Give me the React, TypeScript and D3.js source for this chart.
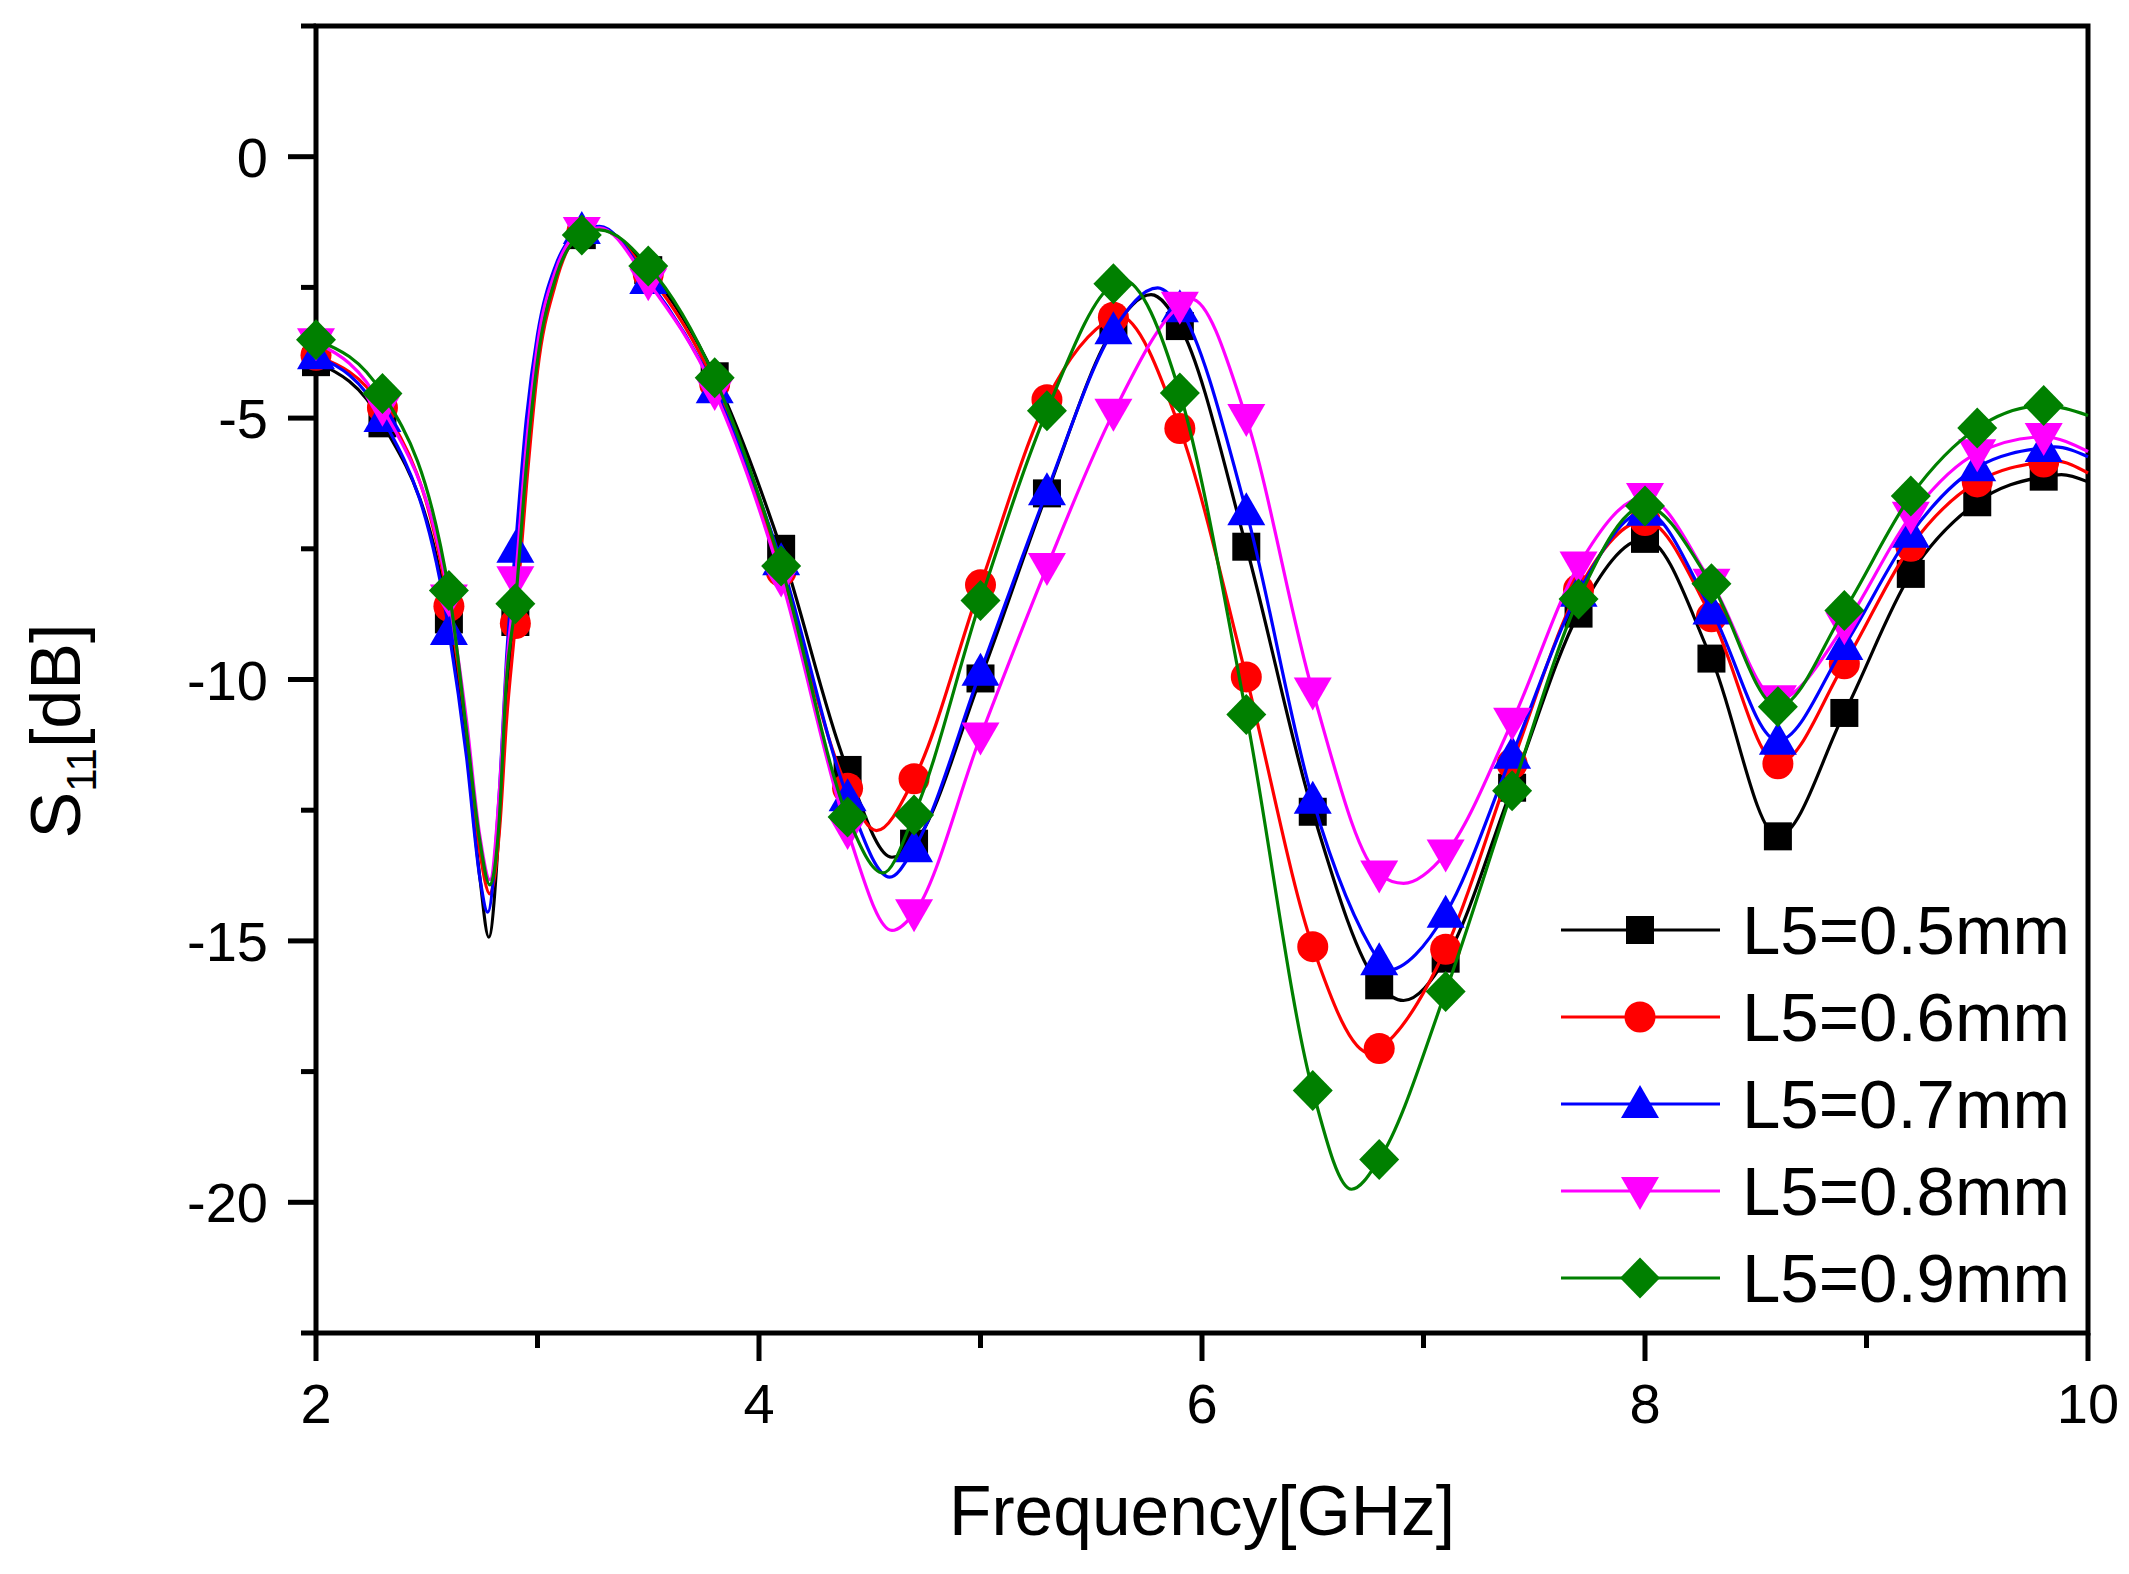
import * as d3 from "d3";
import React from "react";

// Frequency of every plotted marker (GHz)
const FREQ_MARKERS = [
  2.0, 2.3, 2.6, 2.9, 3.2, 3.5, 3.8, 4.1, 4.4, 4.7, 5.0, 5.3, 5.6, 5.9, 6.2,
  6.5, 6.8, 7.1, 7.4, 7.7, 8.0, 8.3, 8.6, 8.9, 9.2, 9.5, 9.8,
];

// S11 values (dB) at the markers
const S11_L05 = [
  -3.93, -5.1, -8.85, -8.9, -1.5, -2.17, -4.2, -7.5, -11.73, -13.14, -9.98,
  -6.44, -3.3, -3.24, -7.46, -12.53, -15.85, -15.34, -12.07, -8.74, -7.31,
  -9.6, -13.0, -10.64, -7.98, -6.61, -6.12,
];
const S11_L06 = [
  -3.8, -4.8, -8.6, -8.93, -1.45, -2.25, -4.35, -7.93, -12.08, -11.9, -8.19,
  -4.65, -3.07, -5.2, -9.95, -15.11, -17.06, -15.16, -11.61, -8.28, -6.96,
  -8.8, -11.61, -9.7, -7.45, -6.22, -5.84,
];
const S11_L07 = [
  -3.8, -5.0, -9.07, -7.5, -1.4, -2.36, -4.45, -7.74, -12.25, -13.23, -9.85,
  -6.4, -3.32, -2.9, -6.78, -12.3, -15.39, -14.48, -11.44, -8.34, -6.79,
  -8.68, -11.17, -9.36, -7.21, -5.94, -5.57,
];
const S11_L08 = [
  -3.55, -4.8, -8.45, -8.1, -1.42, -2.4, -4.5, -8.07, -12.9, -14.47, -11.09,
  -7.85, -4.9, -2.85, -5.0, -10.23, -13.73, -13.33, -10.81, -7.82, -6.51,
  -8.15, -10.38, -8.98, -6.87, -5.67, -5.36,
];
const S11_L09 = [
  -3.5, -4.53, -8.3, -8.55, -1.5, -2.09, -4.23, -7.83, -12.63, -12.59, -8.49,
  -4.86, -2.43, -4.52, -10.67, -17.86, -19.18, -15.97, -12.13, -8.46, -6.68,
  -8.17, -10.52, -8.68, -6.49, -5.19, -4.76,
];

// Extra curve samples between markers (freq, dB)
const CURVE_L05: [number, number][] = [
  [2.68, -11.3], [2.74, -13.8], [2.78, -14.93], [2.83, -12.6], [2.86, -10.2],
  [2.95, -5.8], [3.0, -3.8], [3.08, -2.3], [3.28, -1.38], [4.6, -13.4],
  [5.77, -2.64], [6.91, -16.14], [9.88, -6.08], [10.0, -6.22],
];
const CURVE_L06: [number, number][] = [
  [2.68, -11.0], [2.74, -13.3], [2.785, -14.1], [2.83, -12.8], [2.86, -10.8],
  [2.95, -6.3], [3.0, -4.1], [3.08, -2.45], [3.28, -1.38], [4.53, -12.89],
  [5.62, -3.03], [6.76, -17.15], [9.85, -5.82], [10.0, -6.05],
];
const CURVE_L07: [number, number][] = [
  [2.68, -11.5], [2.74, -13.8], [2.775, -14.45], [2.83, -12.0], [2.86, -9.6],
  [2.95, -5.0], [3.0, -3.4], [3.08, -2.1], [3.28, -1.33], [4.59, -13.78],
  [5.8, -2.51], [6.83, -15.57], [9.85, -5.55], [10.0, -5.74],
];
const CURVE_L08: [number, number][] = [
  [2.68, -10.8], [2.74, -13.0], [2.785, -13.83], [2.83, -12.0], [2.86, -9.8],
  [2.95, -5.5], [3.0, -3.6], [3.08, -2.2], [3.28, -1.36], [4.6, -14.8],
  [5.95, -2.72], [6.91, -13.9], [10.0, -5.64],
];
const CURVE_L09: [number, number][] = [
  [2.68, -11.0], [2.74, -13.1], [2.785, -13.93], [2.825, -12.83], [2.86, -10.0],
  [2.95, -5.9], [3.0, -3.9], [3.08, -2.35], [3.28, -1.4], [4.56, -13.7],
  [5.64, -2.35], [6.675, -19.75], [10.0, -4.95],
];

const SERIES_NAMES = ["L5=0.5mm", "L5=0.6mm", "L5=0.7mm", "L5=0.8mm", "L5=0.9mm"];
const SERIES_COLORS = ["#000000", "#ff0000", "#0000ff", "#ff00ff", "#008000"];
const SERIES_SHAPES = ["square", "circle", "triangle", "down", "diamond"];

const X_TICKS = [2, 4, 6, 8, 10];
const X_MINOR = [3, 5, 7, 9];
const Y_TICKS = [0, -5, -10, -15, -20];
const Y_MINOR = [2.5, -2.5, -7.5, -12.5, -17.5, -22.5];

const FONT = "'Liberation Sans', Arial, sans-serif";

const W = 2129;
const H = 1574;
const plot = { left: 316, right: 2088, top: 26, bottom: 1333 };

const x = d3.scaleLinear().domain([2, 10]).range([plot.left, plot.right]);
const y = d3.scaleLinear().domain([-22.5, 2.5]).range([plot.bottom, plot.top]);

const series = [
  { marks: S11_L05, extra: CURVE_L05 },
  { marks: S11_L06, extra: CURVE_L06 },
  { marks: S11_L07, extra: CURVE_L07 },
  { marks: S11_L08, extra: CURVE_L08 },
  { marks: S11_L09, extra: CURVE_L09 },
].map((s, i) => ({
  name: SERIES_NAMES[i],
  color: SERIES_COLORS[i],
  shape: SERIES_SHAPES[i],
  marks: FREQ_MARKERS.map((f, j) => [f, s.marks[j]] as [number, number]),
  curve: [...FREQ_MARKERS.map((f, j) => [f, s.marks[j]] as [number, number]), ...s.extra].sort(
    (a, b) => a[0] - b[0]
  ),
}));

const line = d3
  .line<[number, number]>()
  .x((d) => x(d[0]))
  .y((d) => y(d[1]))
  .curve(d3.curveMonotoneX);

// marker outline centred on (0,0)
function markerPath(shape: string): string {
  switch (shape) {
    case "square":
      return "M-14,-14H14V14H-14Z";
    case "circle":
      return "M-15.5,0A15.5,15.5 0 1,0 15.5,0A15.5,15.5 0 1,0 -15.5,0Z";
    case "triangle":
      return "M0,-19L19,14H-19Z";
    case "down":
      return "M0,19L19,-14H-19Z";
    default:
      return "M0,-20.5L20,0L0,20.5L-20,0Z";
  }
}

const Marker: React.FC<{ shape: string; color: string; cx: number; cy: number }> = ({
  shape,
  color,
  cx,
  cy,
}) => <path d={markerPath(shape)} fill={color} transform={`translate(${cx},${cy})`} />;

const legendRows = [930, 1017, 1104, 1191, 1278];

export default function App() {
  return (
    <svg
      width={W}
      height={H}
      viewBox={`0 0 ${W} ${H}`}
      style={{ position: "absolute", left: 0, top: 0, background: "#fff" }}
      fontFamily={FONT}
    >
      <rect width={W} height={H} fill="#fff" />

      {/* frame */}
      <rect
        x={plot.left}
        y={plot.top}
        width={plot.right - plot.left}
        height={plot.bottom - plot.top}
        fill="none"
        stroke="#000"
        strokeWidth={5}
      />

      {/* x ticks */}
      {X_TICKS.map((t) => (
        <g key={`xt${t}`}>
          <line x1={x(t)} x2={x(t)} y1={plot.bottom} y2={plot.bottom + 28} stroke="#000" strokeWidth={5} />
          <text x={x(t)} y={1423} fontSize={56} textAnchor="middle">
            {t}
          </text>
        </g>
      ))}
      {X_MINOR.map((t) => (
        <line key={`xm${t}`} x1={x(t)} x2={x(t)} y1={plot.bottom} y2={plot.bottom + 15} stroke="#000" strokeWidth={5} />
      ))}

      {/* y ticks */}
      {Y_TICKS.map((t) => (
        <g key={`yt${t}`}>
          <line x1={plot.left - 28} x2={plot.left} y1={y(t)} y2={y(t)} stroke="#000" strokeWidth={5} />
          <text x={268} y={y(t) + 20} fontSize={56} textAnchor="end">
            {t}
          </text>
        </g>
      ))}
      {Y_MINOR.map((t) => (
        <line key={`ym${t}`} x1={plot.left - 15} x2={plot.left} y1={y(t)} y2={y(t)} stroke="#000" strokeWidth={5} />
      ))}

      {/* axis titles */}
      <text x={1202} y={1535} fontSize={69.5} textAnchor="middle">
        Frequency[GHz]
      </text>
      <text transform="translate(80,731) rotate(-90)" fontSize={70} textAnchor="middle">
        S<tspan fontSize={42} dy={16}>11</tspan>
        <tspan dy={-16}>[dB]</tspan>
      </text>

      {/* data */}
      {series.map((s) => (
        <g key={s.name}>
          <path d={line(s.curve) ?? ""} fill="none" stroke={s.color} strokeWidth={3.2} />
          {s.marks.map((m, j) => (
            <Marker key={j} shape={s.shape} color={s.color} cx={x(m[0])} cy={y(m[1])} />
          ))}
        </g>
      ))}

      {/* legend */}
      {series.map((s, i) => (
        <g key={`lg${s.name}`}>
          <line x1={1561} x2={1720} y1={legendRows[i]} y2={legendRows[i]} stroke={s.color} strokeWidth={3} />
          <Marker shape={s.shape} color={s.color} cx={1640} cy={legendRows[i]} />
          <text x={1742} y={legendRows[i] + 24} fontSize={69}>
            {s.name}
          </text>
        </g>
      ))}
    </svg>
  );
}
